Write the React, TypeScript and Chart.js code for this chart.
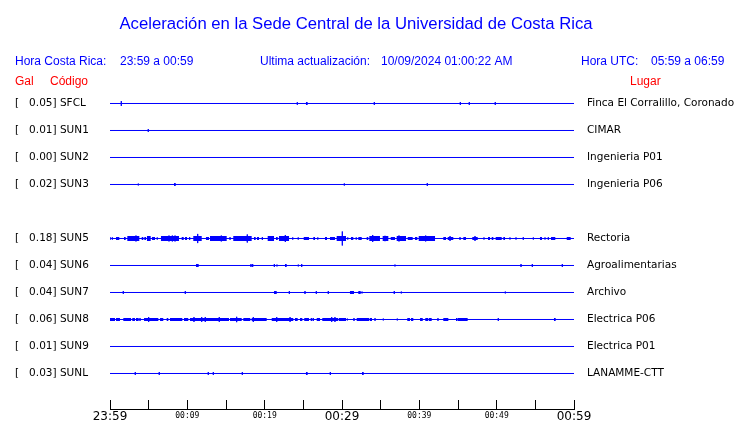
import React, { useEffect, useRef } from 'react';
import { Chart, registerables } from 'chart.js';

Chart.register(...registerables);

// ---------- Data ----------
const TITLE = 'Aceleración en la Sede Central de la Universidad de Costa Rica';
const headerLocalLabel = 'Hora Costa Rica:';
const headerLocalRange = '23:59 a 00:59';
const headerUpdateLabel = 'Ultima actualización:';
const headerUpdateValue = '10/09/2024 01:00:22 AM';
const headerUtcLabel = 'Hora UTC:';
const headerUtcRange = '05:59 a 06:59';
const colGal = 'Gal';
const colCode = 'Código';
const colPlace = 'Lugar';

const codes = ['SFCL', 'SUN1', 'SUN2', 'SUN3', 'SUN5', 'SUN6', 'SUN7', 'SUN8', 'SUN9', 'SUNL'];
const rows = [0, 1, 2, 3, 5, 6, 7, 8, 9, 10];
const gals = [0.05, 0.01, 0.0, 0.02, 0.18, 0.04, 0.04, 0.06, 0.01, 0.03];
const places = [
  'Finca El Corralillo, Coronado', 'CIMAR', 'Ingenieria P01', 'Ingenieria P06', 'Rectoria',
  'Agroalimentarias', 'Archivo', 'Electrica P06', 'Electrica P01', 'LANAMME-CTT',
];

// time axis: minutes after 23:59 (0..60)
const timeLabels = ['23:59', '00:09', '00:19', '00:29', '00:39', '00:49', '00:59'];
const majorTimeLabels = ['23:59', '00:29', '00:59'];

// events: [startMinute, endMinute, amplitude (normalized)]
const sfclEvents = [
  [1.46, 1.46, 0.09], [24.22, 24.22, 0.05], [25.34, 25.56, 0.055], [34.18, 34.18, 0.055],
  [45.3, 45.3, 0.055], [46.46, 46.46, 0.055], [49.82, 49.82, 0.055],
];
const sun1Events = [[4.95, 4.95, 0.055]];
const sun2Events: number[][] = [];
const sun3Events = [[3.66, 3.66, 0.035], [8.28, 8.5, 0.055], [30.3, 30.3, 0.04], [41.03, 41.03, 0.055]];
const sun5Events = [
  [0.09, 0.09, 0.04], [0.32, 0.32, 0.04], [0.78, 1.2, 0.055], [1.81, 2.03, 0.055],
  [2.24, 3.79, 0.07], [3.36, 3.36, 0.11], [4.1, 4.31, 0.055], [4.44, 4.66, 0.055],
  [4.78, 5.26, 0.07], [5.43, 5.82, 0.055], [6.04, 6.17, 0.055], [6.59, 8.92, 0.075],
  [7.63, 7.63, 0.11], [8.06, 8.06, 0.11], [8.41, 8.41, 0.11], [9.27, 9.53, 0.055],
  [9.7, 9.96, 0.055], [10.22, 10.38, 0.055], [10.77, 11.86, 0.07], [11.34, 11.34, 0.17],
  [12.41, 12.8, 0.055], [12.93, 15.09, 0.07], [14.39, 14.39, 0.11], [15.43, 15.61, 0.055],
  [15.94, 18.32, 0.075], [17.75, 17.75, 0.15], [18.62, 18.84, 0.055], [19.01, 19.27, 0.055],
  [19.62, 19.78, 0.055], [20.39, 21.21, 0.07], [21.47, 21.69, 0.055], [21.85, 23.15, 0.07],
  [22.67, 22.67, 0.13], [23.57, 23.7, 0.055], [24.27, 24.4, 0.055], [25.05, 25.73, 0.055],
  [26.29, 26.51, 0.055], [26.81, 26.94, 0.055], [27.8, 28.06, 0.055], [28.45, 29.09, 0.055],
  [29.31, 30.52, 0.07], [30.04, 30.04, 0.26], [30.69, 30.81, 0.055], [31.16, 31.46, 0.055],
  [31.77, 31.9, 0.055], [32.11, 32.55, 0.055], [33.19, 33.4, 0.055], [33.53, 34.91, 0.07],
  [33.97, 33.97, 0.13], [35.26, 35.99, 0.07], [35.56, 35.56, 0.1], [36.3, 36.85, 0.055],
  [37.07, 38.28, 0.07], [37.37, 37.37, 0.11], [38.5, 39.14, 0.055], [39.44, 39.74, 0.055],
  [39.92, 42.03, 0.07], [40.82, 40.82, 0.11], [41.6, 41.6, 0.09], [43.1, 43.45, 0.055],
  [43.67, 44.39, 0.055], [43.97, 43.97, 0.09], [45.17, 45.35, 0.055], [45.69, 46.03, 0.055],
  [46.85, 47.55, 0.055], [47.2, 47.2, 0.09], [48.36, 48.36, 0.04], [48.88, 49.14, 0.055],
  [49.36, 49.57, 0.055], [49.87, 50.65, 0.055], [50.86, 51.08, 0.055], [51.72, 51.72, 0.04],
  [52.5, 52.5, 0.04], [53.44, 53.44, 0.05], [54.74, 54.74, 0.04], [55.6, 55.86, 0.055],
  [56.25, 56.25, 0.04], [56.68, 56.68, 0.05], [57.03, 57.58, 0.055], [59.06, 59.57, 0.055],
];
const sun6Events = [
  [11.12, 11.47, 0.055], [18.23, 18.23, 0.055], [18.45, 18.45, 0.055], [21.25, 21.25, 0.055],
  [21.59, 21.59, 0.035], [22.63, 22.85, 0.055], [24.35, 24.35, 0.035], [24.79, 24.79, 0.055],
  [36.85, 36.85, 0.035], [53.15, 53.15, 0.055], [54.61, 54.61, 0.055], [58.49, 58.49, 0.055],
];
const sun7Events = [
  [1.72, 1.72, 0.055], [9.74, 9.74, 0.055], [21.21, 21.56, 0.055], [23.19, 23.19, 0.055],
  [25.12, 25.31, 0.055], [26.68, 26.68, 0.055], [28.23, 28.23, 0.055], [31.03, 31.55, 0.055],
  [32.11, 32.42, 0.055], [32.59, 32.59, 0.035], [36.76, 36.76, 0.055], [37.67, 37.67, 0.035],
  [51.12, 51.12, 0.035],
];
const sun8Events = [
  [0.0, 0.65, 0.055], [0.78, 1.29, 0.055], [1.72, 2.72, 0.055], [2.88, 3.23, 0.055],
  [3.36, 3.71, 0.055], [3.88, 3.88, 0.055], [4.4, 6.25, 0.055], [5.0, 5.0, 0.09],
  [6.47, 6.89, 0.055], [7.33, 7.54, 0.055], [7.76, 9.35, 0.055], [9.57, 10.12, 0.055],
  [10.34, 14.22, 0.055], [10.86, 10.86, 0.09], [11.86, 11.86, 0.09], [12.32, 12.32, 0.09],
  [14.13, 14.13, 0.09], [14.22, 15.39, 0.055], [15.52, 17.03, 0.055], [16.38, 16.38, 0.1],
  [17.24, 18.14, 0.055], [18.32, 20.26, 0.055], [18.53, 18.53, 0.09], [20.91, 23.7, 0.055],
  [21.56, 21.56, 0.09], [23.28, 23.28, 0.09], [23.92, 24.27, 0.055], [24.57, 24.87, 0.055],
  [25.12, 25.73, 0.055], [25.95, 26.16, 0.055], [26.29, 26.29, 0.055], [26.73, 27.16, 0.055],
  [27.45, 29.52, 0.055], [28.67, 28.67, 0.09], [29.09, 29.09, 0.09], [29.61, 30.52, 0.055],
  [30.69, 30.69, 0.035], [31.55, 31.55, 0.055], [31.9, 33.53, 0.055], [33.62, 33.88, 0.055],
  [34.18, 34.36, 0.055], [35.34, 35.34, 0.035], [37.15, 37.15, 0.035], [38.44, 38.79, 0.055],
  [38.92, 39.22, 0.055], [40.09, 40.44, 0.055], [40.77, 41.16, 0.055], [41.25, 41.6, 0.055],
  [42.32, 42.5, 0.055], [43.1, 43.75, 0.055], [44.74, 44.91, 0.055], [44.96, 46.25, 0.055],
  [50.21, 50.21, 0.055], [57.41, 57.63, 0.055],
];
const sun9Events: number[][] = [];
const sunlEvents = [
  [3.27, 3.27, 0.055], [6.37, 6.37, 0.055], [12.71, 12.71, 0.055], [13.36, 13.36, 0.055],
  [17.11, 17.11, 0.055], [25.34, 25.56, 0.055], [28.49, 28.49, 0.055], [32.59, 32.81, 0.055],
];

const stationEvents = [
  sfclEvents, sun1Events, sun2Events, sun3Events, sun5Events,
  sun6Events, sun7Events, sun8Events, sun9Events, sunlEvents,
];

const X_MIN = 0;
const X_MAX = 60;
const Y_MIN = -0.5;
const Y_MAX = 11.315;

// ---------- Styles ----------
const BLUE = '#0000ff';
const RED = '#ff0000';

// baseline + spikes (vertical strokes)
function buildTrace(row: number, events: number[][]) {
  const pts: { x: number; y: number }[] = [{ x: X_MIN, y: row }];
  for (const [s, e, a] of events) {
    if (e > s) continue;
    pts.push({ x: s, y: row }, { x: s, y: row - a }, { x: s, y: row + a }, { x: s, y: row });
  }
  pts.push({ x: X_MAX, y: row });
  return pts;
}

// bursts: thick horizontal strokes, thickness = 2*amplitude on the y scale
function buildBursts(row: number, events: number[][]) {
  const byAmp = new Map<number, { x: number; y: number | null }[]>();
  for (const [s, e, a] of events) {
    if (!(e > s)) continue;
    if (!byAmp.has(a)) byAmp.set(a, []);
    byAmp.get(a)!.push({ x: s, y: row }, { x: e, y: row }, { x: e, y: null });
  }
  return Array.from(byAmp.entries());
}

const headerPlugin = {
  id: 'headerText',
  afterDraw(chart: any) {
    const ctx = chart.ctx as CanvasRenderingContext2D;
    ctx.save();
    ctx.textBaseline = 'alphabetic';
    ctx.fillStyle = BLUE;
    ctx.textAlign = 'center';
    ctx.font = '16.7px "Liberation Sans", Arial, sans-serif';
    ctx.fillText(TITLE, 356, 29);
    ctx.textAlign = 'left';
    ctx.font = '12px "Liberation Sans", Arial, sans-serif';
    ctx.fillText(headerLocalLabel, 15, 65);
    ctx.fillText(headerLocalRange, 120, 65);
    ctx.fillText(headerUpdateLabel, 260, 65);
    ctx.fillText(headerUpdateValue, 381, 65);
    ctx.fillText(headerUtcLabel, 581, 65);
    ctx.fillText(headerUtcRange, 651, 65);
    ctx.fillStyle = RED;
    ctx.fillText(colGal, 15, 85);
    ctx.fillText(colCode, 50, 85);
    ctx.fillText(colPlace, 630, 85);
    ctx.restore();
  },
};

export default function App() {
  const ref = useRef<HTMLCanvasElement | null>(null);

  useEffect(() => {
    if (!ref.current) return;
    const datasets: any[] = [];
    rows.forEach((row, i) => {
      datasets.push({
        label: codes[i],
        data: buildTrace(row, stationEvents[i]),
        borderColor: BLUE,
        backgroundColor: BLUE,
        borderWidth: 1,
        pointRadius: 0,
        pointHoverRadius: 0,
        tension: 0,
        fill: false,
      });
      for (const [a, data] of buildBursts(row, stationEvents[i])) {
        datasets.push({
          label: codes[i] + ' burst',
          data,
          borderColor: BLUE,
          backgroundColor: BLUE,
          borderWidth: (ctx: any) => {
            const s = ctx.chart.scales.y;
            const px = Math.abs(s.getPixelForValue(a) - s.getPixelForValue(0));
            return 2 * Math.round(px) + 1;
          },
          borderCapStyle: 'butt',
          pointRadius: 0,
          pointHoverRadius: 0,
          tension: 0,
          spanGaps: false,
          fill: false,
        });
      }
    });

    const rowTicks = (scale: any) => {
      scale.ticks = rows.map((v) => ({ value: v }));
    };
    const fixV = (w: number) => (s: any) => {
      s.width = w;
      s.paddingTop = 0;
      s.paddingBottom = 0;
    };

    const chart = new Chart(ref.current, {
      type: 'line',
      data: { datasets },
      plugins: [headerPlugin],
      options: {
        animation: false,
        responsive: false,
        devicePixelRatio: 1,
        events: [],
        layout: { autoPadding: false, padding: { top: 90, left: 15, right: 0, bottom: 0 } },
        plugins: {
          legend: { display: false },
          tooltip: { enabled: false },
          title: { display: false },
        },
        scales: {
          x: {
            type: 'linear',
            position: 'bottom',
            min: X_MIN,
            max: X_MAX,
            afterFit: (s: any) => {
              s.height = 14;
              s.paddingLeft = 0;
              s.paddingRight = 0;
            },
            border: { display: true, color: '#000', width: 1 },
            grid: {
              drawOnChartArea: false,
              drawTicks: true,
              tickLength: -9,
              color: '#000',
              lineWidth: 1,
            },
            ticks: {
              stepSize: 5,
              autoSkip: false,
              maxRotation: 0,
              minRotation: 0,
              padding: 10,
              color: '#000',
              callback: (v: any) => {
                const n = Number(v);
                return n % 10 === 0 ? timeLabels[n / 10] : '';
              },
              font: (ctx: any) => {
                const n = ctx.tick ? Number(ctx.tick.value) : 0;
                const lbl = n % 10 === 0 ? timeLabels[n / 10] : '';
                return majorTimeLabels.includes(lbl)
                  ? { family: 'DejaVu Sans', size: 12, lineHeight: 1.2 }
                  : { family: 'DejaVu Sans Mono', size: 8, lineHeight: 1.6 };
              },
            },
          },
          y: {
            type: 'linear',
            position: 'left',
            reverse: true,
            min: Y_MIN,
            max: Y_MAX,
            afterFit: fixV(95),
            afterBuildTicks: rowTicks,
            border: { display: false },
            grid: { display: false, drawTicks: false },
            ticks: {
              crossAlign: 'far',
              color: '#000',
              font: { family: 'DejaVu Sans', size: 10.5 },
              callback: (v: any) => {
                const i = rows.indexOf(Number(v));
                return i < 0 ? '' : `[   ${gals[i].toFixed(2)}] ${codes[i]}`;
              },
            },
          },
          yR: {
            type: 'linear',
            position: 'right',
            reverse: true,
            min: Y_MIN,
            max: Y_MAX,
            afterFit: fixV(166),
            afterBuildTicks: rowTicks,
            border: { display: false },
            grid: { display: false, drawTicks: false },
            ticks: {
              crossAlign: 'near',
              padding: 13,
              color: '#000',
              font: { family: 'DejaVu Sans', size: 10.5 },
              callback: (v: any) => {
                const i = rows.indexOf(Number(v));
                return i < 0 ? '' : places[i];
              },
            },
          },
        },
      },
    } as any);

    return () => chart.destroy();
  }, []);

  return (
    <div style={{ position: 'absolute', left: 0, top: 0, width: 740, height: 423, background: '#fff' }}>
      <canvas ref={ref} width={740} height={423} style={{ display: 'block' }} />
    </div>
  );
}
